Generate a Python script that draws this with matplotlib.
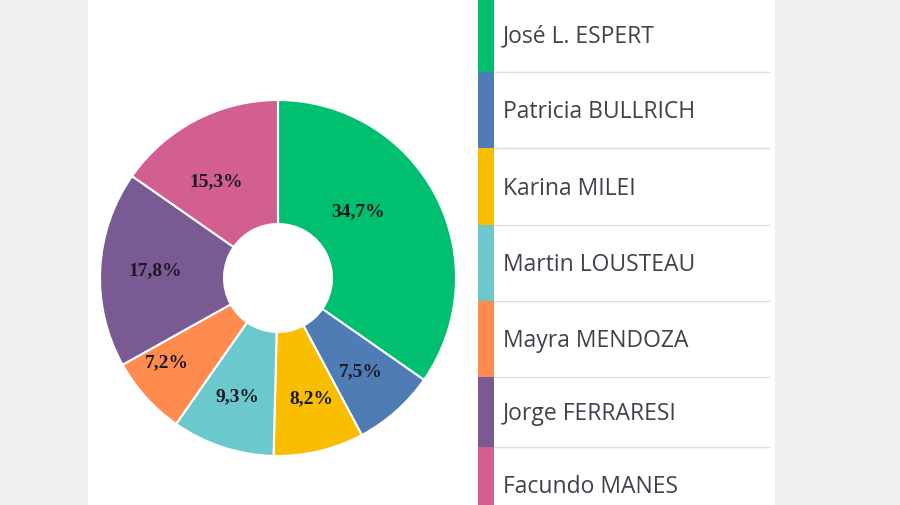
import numpy as np
import matplotlib.pyplot as plt
from matplotlib.patches import Rectangle

# data
candidates = ['José L. ESPERT', 'Patricia BULLRICH', 'Karina MILEI', 'Martin LOUSTEAU',
              'Mayra MENDOZA', 'Jorge FERRARESI', 'Facundo MANES']
shares = [34.7, 7.5, 8.2, 9.3, 7.2, 17.8, 15.3]
colors = ['#00BF6F', '#507CB6', '#F9BE00', '#6BC8CD', '#FF8B4F', '#7A5A92', '#D25F90']

# label tweaks (radius fraction, angle offset in deg)
label_r = [0.59, 0.70, 0.70, 0.70, 0.78, 0.69, 0.65]
label_da = [12.5, 0, 2, -1, -5, -1, 5]

W, H = 900, 506
fig = plt.figure(figsize=(9, 5.06), dpi=100)
fig.patch.set_facecolor('#efefef')

# background / legend axes in pixel coords
bg = fig.add_axes([0, 0, 1, 1])
bg.set_xlim(0, W)
bg.set_ylim(H, 0)
bg.axis('off')
bg.add_patch(Rectangle((88, -5), 687, H + 10, facecolor='white', edgecolor='none'))

# legend rows
bounds = [-3, 73, 149, 226, 302, 378, 448, 524]
tops = np.array(bounds[:-1])
heights = np.diff(bounds)
bg.bar(486, heights, bottom=tops, width=16, color=colors, linewidth=0)
bg.hlines(bounds[1:-1], 494, 770, color='#dedede', linewidth=1)
for i, name in enumerate(candidates):
    bg.text(503, tops[i] + heights[i] / 2 + 1, name, va='center', ha='left',
            fontsize=16.5, color='#3d434a', family='Open Sans')

# donut
R = 178.0
ax = fig.add_axes([(278 - 200) / W, (H - 279 - 200) / H, 400 / W, 400 / H])
wedges, _ = ax.pie(shares, colors=colors, startangle=90, counterclock=False,
                   radius=1, wedgeprops=dict(width=1 - 54 / R, edgecolor='white', linewidth=1.5))
ax.set_xlim(-200 / R, 200 / R)
ax.set_ylim(-200 / R, 200 / R)
ax.set_aspect('equal')
ax.axis('off')

for i, w in enumerate(wedges):
    th = np.deg2rad((w.theta1 + w.theta2) / 2 + label_da[i])
    ax.text(label_r[i] * np.cos(th), label_r[i] * np.sin(th),
            f'{shares[i]:.1f}%'.replace('.', ','),
            ha='center', va='center', fontsize=14, fontweight='bold',
            color='#1b1a26', family='Liberation Serif')

fig.savefig('out.png', dpi=100, facecolor=fig.get_facecolor())
